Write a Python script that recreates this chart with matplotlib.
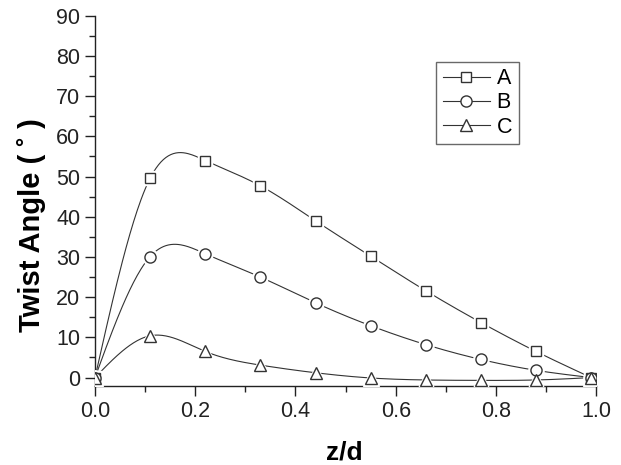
import matplotlib
matplotlib.use("Agg")
import matplotlib.pyplot as plt
import numpy as np
from matplotlib.ticker import MultipleLocator, FormatStrFormatter

plt.rcParams["font.family"] = ["Liberation Sans", "DejaVu Sans"]

# data
z_d = [0.0, 0.11, 0.22, 0.33, 0.44, 0.55, 0.66, 0.77, 0.88, 0.99]
twist_a = [0.0, 49.6, 54.0, 47.7, 39.0, 30.2, 21.6, 13.7, 6.5, 0.0]
twist_b = [0.0, 30.1, 30.8, 25.0, 18.6, 12.9, 8.2, 4.5, 1.8, 0.0]
twist_c = [0.0, 10.4, 6.5, 3.1, 1.2, -0.1, -0.6, -0.7, -0.6, 0.0]
labels = ["A", "B", "C"]
markers = ["s", "o", "^"]
marker_sizes = [7, 8, 9]


def natural_spline(x, y, n=400):
    """Natural cubic spline through the points, for the smooth connecting line."""
    x = np.asarray(x, float)
    y = np.asarray(y, float)
    k = len(x)
    h = np.diff(x)
    A = np.zeros((k, k))
    r = np.zeros(k)
    A[0, 0] = A[-1, -1] = 1.0
    for i in range(1, k - 1):
        A[i, i - 1] = h[i - 1]
        A[i, i] = 2 * (h[i - 1] + h[i])
        A[i, i + 1] = h[i]
        r[i] = 6 * ((y[i + 1] - y[i]) / h[i] - (y[i] - y[i - 1]) / h[i - 1])
    m = np.linalg.solve(A, r)
    xs = np.linspace(x[0], x[-1], n)
    idx = np.clip(np.searchsorted(x, xs) - 1, 0, k - 2)
    x0, x1 = x[idx], x[idx + 1]
    hh = x1 - x0
    t0, t1 = x1 - xs, xs - x0
    ys = (m[idx] * t0 ** 3 + m[idx + 1] * t1 ** 3) / (6 * hh) \
        + (y[idx] / hh - m[idx] * hh / 6) * t0 \
        + (y[idx + 1] / hh - m[idx + 1] * hh / 6) * t1
    return xs, ys


fig = plt.figure(figsize=(6.21, 4.65), dpi=100)
ax = fig.add_axes([0.153, 0.169, 0.807, 0.797])

line_color = "#333333"
for series, label, mk, ms in zip([twist_a, twist_b, twist_c], labels, markers, marker_sizes):
    xs, ys = natural_spline(z_d, series)
    ax.plot(xs, ys, color=line_color, lw=0.8, zorder=2)
    # white halo so the line stops short of each marker
    ax.plot(z_d, series, ls="none", marker=mk, ms=ms + 3, mfc="white", mec="white", zorder=3)
    ax.plot(z_d, series, ls="none", marker=mk, ms=ms, mfc="white", mec=line_color, mew=1.0, zorder=4)
    ax.plot([], [], color=line_color, lw=0.8, marker=mk, ms=ms, mfc="white", mec=line_color,
            label=label)

ax.set_xlim(0, 1.0)
ax.set_ylim(-2.2, 90)
ax.xaxis.set_major_locator(MultipleLocator(0.2))
ax.xaxis.set_minor_locator(MultipleLocator(0.1))
ax.yaxis.set_major_locator(MultipleLocator(10))
ax.yaxis.set_minor_locator(MultipleLocator(5))
ax.spines["top"].set_visible(False)
ax.spines["right"].set_visible(False)
for s in ["left", "bottom"]:
    ax.spines[s].set_linewidth(1.0)
    ax.spines[s].set_color("#222222")
ax.tick_params(which="major", direction="out", length=7, width=1.0, labelsize=15.5,
               colors="#222222")
ax.tick_params(which="minor", direction="out", length=4, width=1.0, colors="#222222")
ax.xaxis.set_major_formatter(FormatStrFormatter("%.1f"))

ax.set_xlabel("z/d", fontsize=19, fontweight="bold")
ax.xaxis.set_label_coords(0.497, -0.145)
ax.set_ylabel("Twist Angle ( ˚ )", fontsize=21, fontweight="bold")
ax.yaxis.set_label_coords(-0.098, 0.436)

leg = ax.legend(loc="upper left", bbox_to_anchor=(0.681, 0.876), fontsize=15.5,
                frameon=True, fancybox=False, edgecolor="#444444", handlelength=2.2,
                handletextpad=0.3, borderpad=0.3, labelspacing=0.15, borderaxespad=0)
leg.get_frame().set_linewidth(1.0)

fig.savefig("out.png", dpi=100)
